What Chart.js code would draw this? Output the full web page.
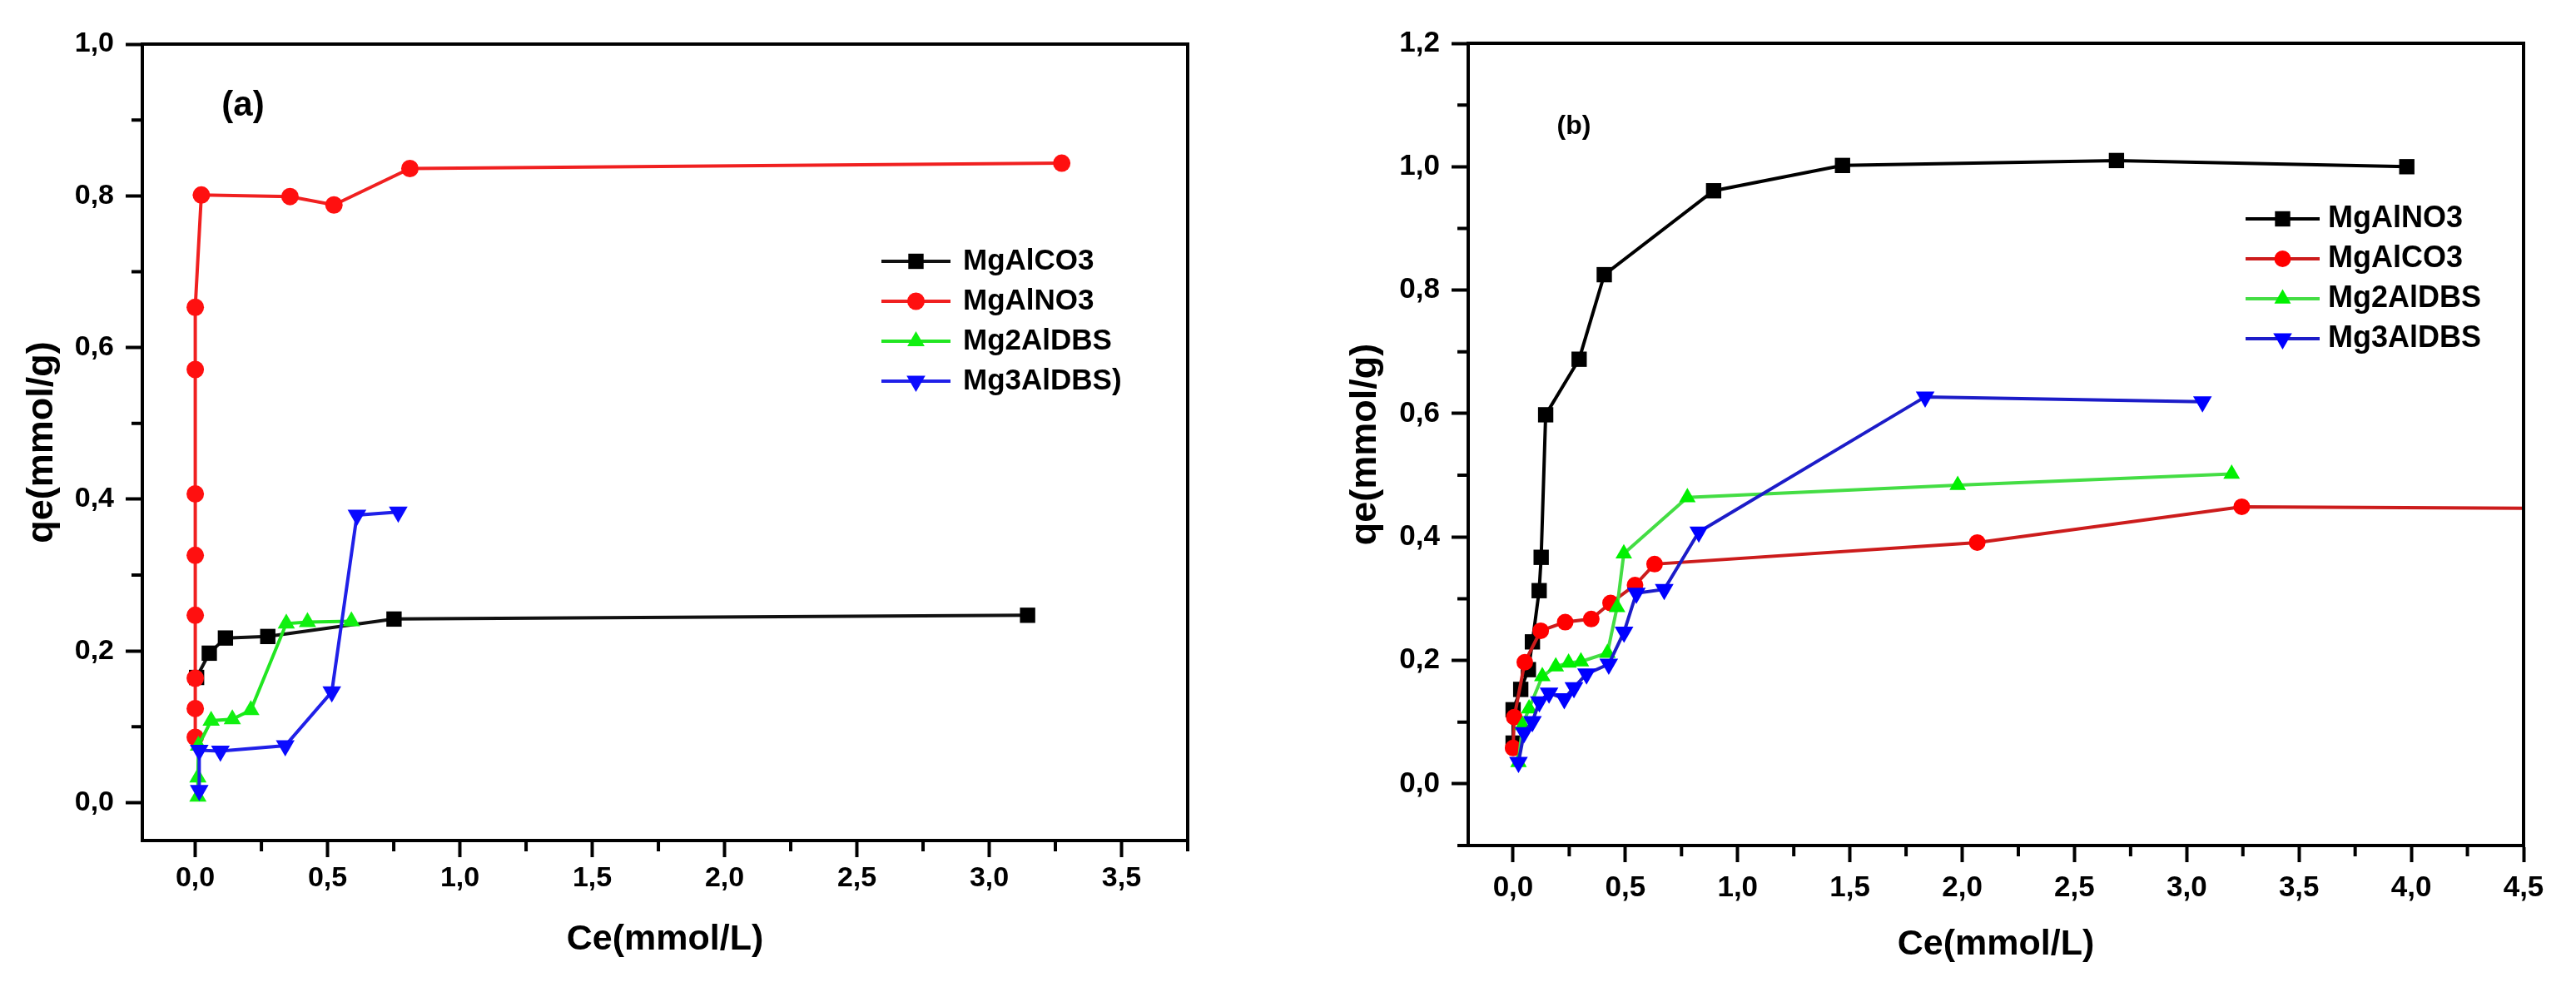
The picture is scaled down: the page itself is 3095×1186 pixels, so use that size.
<!DOCTYPE html>
<html>
<head>
<meta charset="utf-8">
<title>qe vs Ce isotherms</title>
<script src="https://cdn.jsdelivr.net/npm/chart.js@4.4.1/dist/chart.umd.min.js"></script>
<style>
  html, body { margin: 0; padding: 0; background: #fff; }
  #wrap { position: relative; width: 3095px; height: 1186px; overflow: hidden; }
  #chartA { position: absolute; left: 0; top: 0; }
  #chartB { position: absolute; left: 1545px; top: 0; }
</style>
</head>
<body>
<div id="wrap">
  <canvas id="chartA" width="1545" height="1186"></canvas>
  <canvas id="chartB" width="1550" height="1186"></canvas>
</div>
<script>
// Panel (a)
const aCO3x = [0.005, 0.053, 0.114, 0.274, 0.751, 3.145];
const aCO3y = [0.165, 0.197, 0.217, 0.219, 0.242, 0.247];
const aNO3x = [0, 0, 0, 0, 0, 0, 0, 0, 0.023, 0.358, 0.524, 0.811, 3.274];
const aNO3y = [0.086, 0.124, 0.164, 0.247, 0.326, 0.407, 0.571, 0.653, 0.801, 0.799, 0.788, 0.836, 0.843];
const aMg2x = [0.01, 0.01, 0.012, 0.06, 0.14, 0.21, 0.344, 0.424, 0.59];
const aMg2y = [0.008, 0.033, 0.075, 0.108, 0.11, 0.122, 0.236, 0.238, 0.239];
const aMg3x = [0.015, 0.015, 0.095, 0.34, 0.516, 0.611, 0.767];
const aMg3y = [0.016, 0.069, 0.068, 0.075, 0.146, 0.379, 0.383];

// Panel (b)
const bNO3x = [0, 0, 0.034, 0.068, 0.086, 0.116, 0.125, 0.145, 0.294, 0.406, 0.893, 1.467, 2.687, 3.98];
const bNO3y = [0.066, 0.12, 0.153, 0.185, 0.23, 0.313, 0.367, 0.598, 0.688, 0.825, 0.961, 1.002, 1.01, 1.0];
const bCO3x = [0, 0.005, 0.052, 0.123, 0.232, 0.348, 0.434, 0.543, 0.63, 2.067, 3.245, 4.8];
const bCO3y = [0.058, 0.108, 0.197, 0.248, 0.262, 0.267, 0.293, 0.322, 0.356, 0.391, 0.449, 0.446];
const bMg2x = [0.024, 0.042, 0.071, 0.13, 0.19, 0.247, 0.302, 0.42, 0.463, 0.493, 0.776, 1.98, 3.2];
const bMg2y = [0.035, 0.095, 0.122, 0.174, 0.19, 0.196, 0.198, 0.212, 0.286, 0.373, 0.464, 0.484, 0.502];
const bMg3x = [0.024, 0.049, 0.086, 0.117, 0.16, 0.228, 0.271, 0.327, 0.426, 0.494, 0.549, 0.673, 0.827, 1.835, 3.07];
const bMg3y = [0.035, 0.083, 0.101, 0.133, 0.147, 0.138, 0.156, 0.178, 0.194, 0.246, 0.309, 0.315, 0.408, 0.627, 0.619];

// Tick values
const aTicksX = [0, 0.5, 1, 1.5, 2, 2.5, 3, 3.5];
const aTicksY = [0, 0.2, 0.4, 0.6, 0.8, 1.0];
const bTicksX = [0, 0.5, 1, 1.5, 2, 2.5, 3, 3.5, 4, 4.5];
const bTicksY = [0, 0.2, 0.4, 0.6, 0.8, 1.0, 1.2];

Chart.defaults.font.family = "'Liberation Sans', Arial, sans-serif";
Chart.defaults.font.weight = 'bold';
Chart.defaults.color = '#000';

const pts = (xs, ys) => xs.map((x, i) => ({ x: x, y: ys[i] }));
const comma = v => v.toFixed(1).replace('.', ',');

function series(label, xs, ys, marker, line, style, radius, order, rot) {
    return {
        label: label,
        data: pts(xs, ys),
        showLine: true,
        borderColor: line,
        borderWidth: 4,
        backgroundColor: marker,
        pointBackgroundColor: marker,
        pointBorderWidth: 0,
        pointStyle: style,
        pointRadius: radius,
        pointRotation: rot || 0,
        order: order,
        clip: 2
    };
}

// legend marker (line + symbol + text), same look as the plot marks
function drawMarker(ctx, style, x, y, r, rot) {
    ctx.beginPath();
    if (style === 'circle') {
        ctx.arc(x, y, r, 0, Math.PI * 2);
    } else if (style === 'rect') {
        const s = r * Math.SQRT1_2;
        ctx.rect(x - s, y - s, 2 * s, 2 * s);
    } else {
        const dir = rot ? -1 : 1;
        for (let k = 0; k < 3; k++) {
            const ang = k * 2 * Math.PI / 3;
            const px = x + Math.sin(ang) * r;
            const py = y - dir * Math.cos(ang) * r;
            if (k) ctx.lineTo(px, py); else ctx.moveTo(px, py);
        }
        ctx.closePath();
    }
    ctx.fill();
}

const seriesKey = {
    id: 'seriesKey',
    afterDraw(chart, args, o) {
        if (!o.rows) return;
        const ctx = chart.ctx;
        ctx.save();
        ctx.font = o.font;
        ctx.textBaseline = 'middle';
        ctx.textAlign = 'left';
        o.rows.forEach((idx, i) => {
            const ds = chart.data.datasets[idx];
            const y = o.top + i * o.rowGap;
            ctx.strokeStyle = ds.borderColor;
            ctx.lineWidth = 4;
            ctx.beginPath();
            ctx.moveTo(o.left, y);
            ctx.lineTo(o.left + o.lineLen, y);
            ctx.stroke();
            ctx.fillStyle = ds.pointBackgroundColor;
            drawMarker(ctx, ds.pointStyle, o.left + o.lineLen / 2, y, ds.pointRadius, ds.pointRotation);
            ctx.fillStyle = '#000';
            ctx.fillText(ds.label, o.left + o.lineLen + o.textGap, y);
        });
        ctx.restore();
    }
};

// closes the box on top/right, adds minor ticks and the panel tag
const frame = {
    id: 'frame',
    afterDraw(chart, args, o) {
        const { ctx, chartArea: a, scales } = chart;
        ctx.save();
        ctx.strokeStyle = '#000';
        ctx.lineWidth = 4;
        ctx.beginPath();
        ctx.moveTo(a.left - 2, a.top);
        ctx.lineTo(a.right, a.top);
        ctx.lineTo(a.right, a.bottom + 2);
        ctx.stroke();

        const minors = (scale) => {
            const t = scale.ticks.map(k => k.value);
            const half = (t[1] - t[0]) / 2;
            const out = [t[0] - half].concat(t.map(v => v + half));
            return out.filter(v => v >= scale.min - 1e-9 && v <= scale.max + 1e-9);
        };
        ctx.beginPath();
        minors(scales.x).forEach(v => {
            const p = scales.x.getPixelForValue(v);
            ctx.moveTo(p, a.bottom + 2);
            ctx.lineTo(p, a.bottom + 13);
        });
        minors(scales.y).forEach(v => {
            const p = scales.y.getPixelForValue(v);
            ctx.moveTo(a.left - 2, p);
            ctx.lineTo(a.left - 13, p);
        });
        ctx.stroke();

        ctx.fillStyle = '#000';
        ctx.font = o.tagFont;
        ctx.textAlign = 'center';
        ctx.textBaseline = 'middle';
        ctx.fillText(o.tag, o.tagX, o.tagY);
        ctx.restore();
    }
};

function scalesFor(c) {
    return {
        x: {
            type: 'linear',
            min: c.xMin,
            max: c.xMax,
            afterBuildTicks: s => { s.ticks = c.xTicks.map(v => ({ value: v })); },
            afterFit: s => { s.height = c.xHeight; },
            border: { display: true, color: '#000', width: 4 },
            grid: { drawOnChartArea: false, drawTicks: true, tickLength: 20, tickWidth: 4, tickColor: '#000', color: '#000' },
            ticks: { color: '#000', font: c.tickFont, padding: c.xPad, autoSkip: false, maxRotation: 0, callback: comma },
            title: { display: true, text: 'Ce(mmol/L)', color: '#000', font: { size: 43, weight: 'bold' }, padding: { top: 0, bottom: c.xTitlePad } }
        },
        y: {
            type: 'linear',
            min: c.yMin,
            max: c.yMax,
            afterBuildTicks: s => { s.ticks = c.yTicks.map(v => ({ value: v })); },
            afterFit: s => { s.width = c.yWidth; },
            border: { display: true, color: '#000', width: 4 },
            grid: { drawOnChartArea: false, drawTicks: true, tickLength: 20, tickWidth: 4, tickColor: '#000', color: '#000' },
            ticks: { color: '#000', font: c.tickFont, padding: 14, autoSkip: false, callback: comma },
            title: { display: true, text: 'qe(mmol/g)', color: '#000', font: { size: 45, weight: 'bold' }, padding: { top: c.yTitlePad, bottom: 0 } }
        }
    };
}

// Panel (a)
new Chart(document.getElementById('chartA'), {
    type: 'scatter',
    data: {
        datasets: [
            series('MgAlCO3', aCO3x, aCO3y, '#000000', '#111111', 'rect', 13, 4),
            series('MgAlNO3', aNO3x, aNO3y, '#ff1010', '#f02020', 'circle', 10.5, 3),
            series('Mg2AlDBS', aMg2x, aMg2y, '#10f010', '#22e622', 'triangle', 12, 2),
            series('Mg3AlDBS)', aMg3x, aMg3y, '#0a0aff', '#2020e8', 'triangle', 13, 1, 180)
        ]
    },
    options: {
        responsive: false,
        devicePixelRatio: 1,
        animation: false,
        events: [],
        layout: { padding: { left: 0, top: 53, right: 118, bottom: 0 } },
        scales: scalesFor({
            xMin: -0.2, xMax: 3.75, yMin: -0.05, yMax: 1.0,
            xTicks: aTicksX, yTicks: aTicksY,
            xHeight: 176, yWidth: 171, xPad: 5, xTitlePad: 31, yTitlePad: 24,
            tickFont: { size: 34, weight: 'bold' }
        }),
        plugins: {
            legend: { display: false },
            tooltip: { enabled: false },
            seriesKey: { rows: [0, 1, 2, 3], left: 1059, top: 314, rowGap: 48, lineLen: 83, textGap: 15, font: 'bold 35px "Liberation Sans", Arial, sans-serif' },
            frame: { tag: '(a)', tagX: 292, tagY: 127, tagFont: 'bold 42px "Liberation Sans", Arial, sans-serif' }
        }
    },
    plugins: [frame, seriesKey]
});

// Panel (b)
new Chart(document.getElementById('chartB'), {
    type: 'scatter',
    data: {
        datasets: [
            series('MgAlNO3', bNO3x, bNO3y, '#000000', '#000000', 'rect', 13, 4),
            series('MgAlCO3', bCO3x, bCO3y, '#ff0000', '#cc1c1c', 'circle', 10, 3),
            series('Mg2AlDBS', bMg2x, bMg2y, '#00f000', '#44dd44', 'triangle', 11.5, 2),
            series('Mg3AlDBS', bMg3x, bMg3y, '#0000ff', '#1c1cc8', 'triangle', 13, 1, 180)
        ]
    },
    options: {
        responsive: false,
        devicePixelRatio: 1,
        animation: false,
        events: [],
        layout: { padding: { left: 0, top: 52, right: 63, bottom: 0 } },
        scales: scalesFor({
            xMin: -0.2, xMax: 4.5, yMin: -0.1, yMax: 1.2,
            xTicks: bTicksX, yTicks: bTicksY,
            xHeight: 170, yWidth: 219, xPad: 10, xTitlePad: 25, yTitlePad: 69,
            tickFont: { size: 35, weight: 'bold' }
        }),
        plugins: {
            legend: { display: false },
            tooltip: { enabled: false },
            seriesKey: { rows: [0, 1, 2, 3], left: 1153, top: 263, rowGap: 48, lineLen: 89, textGap: 10, font: 'bold 36px "Liberation Sans", Arial, sans-serif' },
            frame: { tag: '(b)', tagX: 346, tagY: 152, tagFont: 'bold 32px "Liberation Sans", Arial, sans-serif' }
        }
    },
    plugins: [frame, seriesKey]
});
</script>
</body>
</html>
